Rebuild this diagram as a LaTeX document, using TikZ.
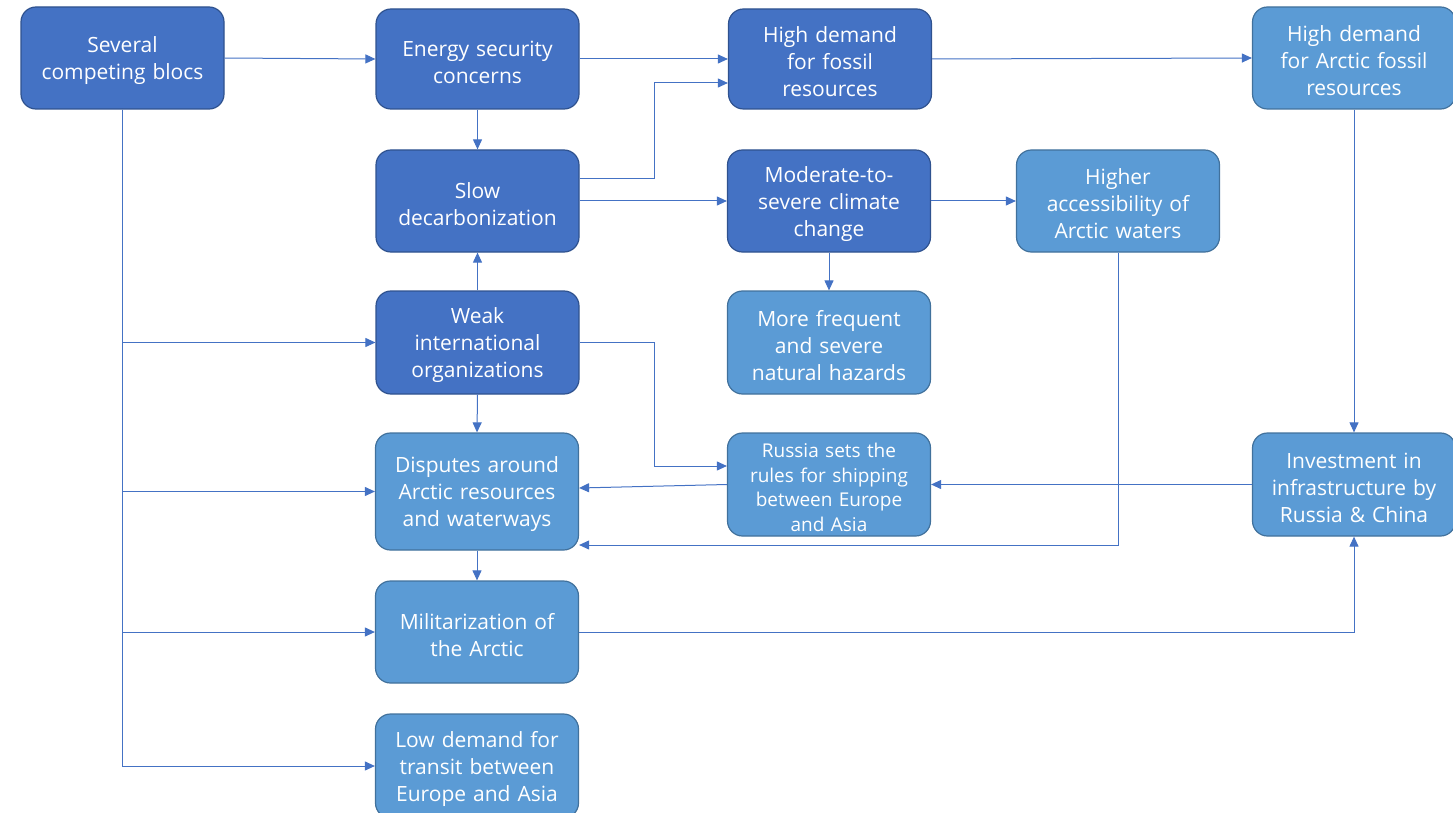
\documentclass[tikz,border=0pt]{standalone}
\usepackage{fontspec}
\setmainfont{Open Sans}
\usetikzlibrary{arrows.meta}
\definecolor{darkfill}{HTML}{4472C4}
\definecolor{darkline}{HTML}{2F528F}
\definecolor{lightfill}{HTML}{5B9BD5}
\definecolor{lightline}{HTML}{41719C}
\definecolor{conn}{HTML}{4472C4}
\newcommand\mytxtshift{\endgraf\vspace{-6pt}}
\begin{document}
\begin{tikzpicture}[x=1pt,y=-1pt,
 box/.style={rounded corners=15pt, minimum width=203pt, text width=200pt, align=center, text=white, line width=1.2pt, inner sep=0pt, font=\fontsize{21}{27}\selectfont, execute at end node={\mytxtshift}},
 dbox/.style={box, fill=darkfill, draw=darkline},
 lbox/.style={box, fill=lightfill, draw=lightline},
 arr/.style={draw=conn, line width=1pt, -{Triangle[length=10pt,width=9pt]}}]
\useasboundingbox (0,0) rectangle (1453,813);

\node[dbox, minimum height=102pt] (sev) at (122.5,58) {Several\\competing blocs};
\node[dbox, minimum height=100pt] (ene) at (477.5,59) {Energy security\\concerns};
\node[dbox, minimum height=100pt] (hdf) at (830,59) {High demand\\for fossil\\resources};
\node[lbox, minimum height=102pt] (hda) at (1354,58) {High demand\\for Arctic fossil\\resources};
\node[dbox, minimum height=102pt] (slow) at (477.5,201) {Slow\\decarbonization};
\node[dbox, minimum height=102pt] (mod) at (829,201) {Moderate-to-\\severe climate\\change};
\node[lbox, minimum height=102pt] (hig) at (1118,201) {Higher\\accessibility of\\Arctic waters};
\node[dbox, minimum height=103pt] (weak) at (477.5,342.5) {Weak\\international\\organizations};
\node[lbox, minimum height=103pt] (more) at (829,342.5) {More frequent\\and severe\\natural hazards};
\node[lbox, minimum height=117pt] (disp) at (477,491.5) {Disputes around\\Arctic resources\\and waterways};
\node[lbox, minimum height=103pt, font=\fontsize{19}{24.5}\selectfont] (rus) at (829,484.5) {Russia sets the\\rules for shipping\\between Europe\\and Asia};
\node[lbox, minimum height=103pt] (inv) at (1354,484.5) {Investment in\\infrastructure by\\Russia \& China};
\node[lbox, minimum height=102pt] (mil) at (477,632) {Militarization of\\the Arctic};
\node[lbox, minimum height=104pt] (low) at (477,766) {Low demand for\\transit between\\Europe and Asia};

\draw[arr] (sev.east) -- (ene.west);
\draw[arr] (ene.east) -- (hdf.west);
\draw[arr] (hdf.east) -- (hda.west);
\draw[arr] (ene.south) -- (slow.north);
\draw[arr] ([yshift=22pt]slow.east) -- ++(75,0) |- ([yshift=-24pt]hdf.west);
\draw[arr] (slow.east) -- (mod.west);
\draw[arr] (mod.east) -- (hig.west);
\draw[arr] (mod.south) -- (more.north);
\draw[arr] (weak.north) -- (slow.south);
\draw[arr] (weak.south) -- (disp.north);
\draw[arr] (weak.east) -- ++(75,0) |- ([yshift=18.5pt]rus.west);
\draw[arr] (rus.west) -- ([yshift=3.5pt]disp.east);
\draw[arr] (inv.west) -- (rus.east);
\draw[arr] (hig.south) |- ([yshift=-53.5pt]disp.east);
\draw[arr] (hda.south) -- (inv.north);
\draw[arr] (disp.south) -- (mil.north);
\draw[arr] (mil.east) -| (inv.south);
\draw[arr] (sev.south) |- (low.west);
\draw[arr] (sev.south) |- (weak.west);
\draw[arr] (sev.south) |- (disp.west);
\draw[arr] (sev.south) |- (mil.west);
\end{tikzpicture}
\end{document}
